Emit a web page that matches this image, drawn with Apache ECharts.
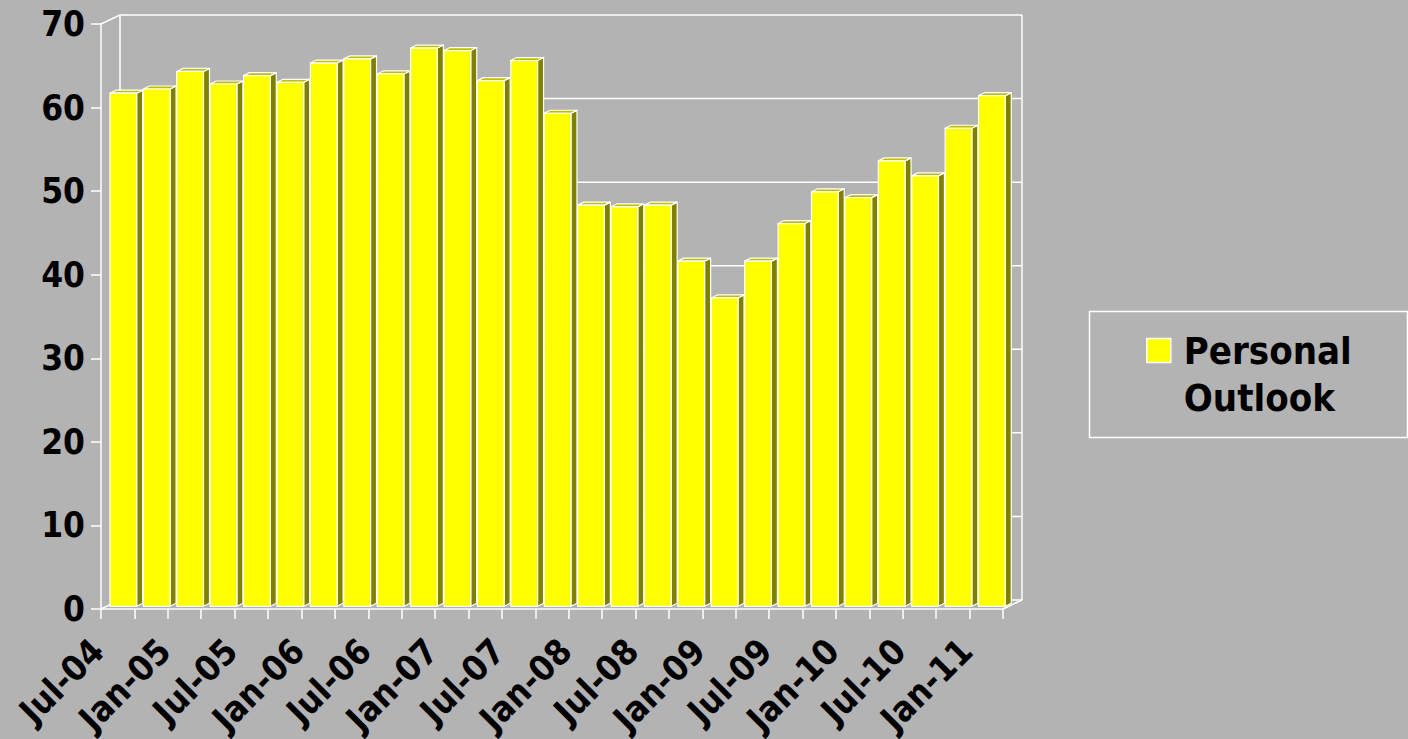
<!DOCTYPE html>
<html>
<head>
<meta charset="utf-8">
<script src="https://cdn.jsdelivr.net/npm/echarts@6/dist/echarts.min.js"></script>
<style>
  html, body { margin: 0; padding: 0; background: #b3b3b3; }
  #chart { width: 1408px; height: 739px; }
</style>
</head>
<body>
<div id="chart"></div>
<script>
// ---- data ----
const categories = ["Jul-04","Oct-04","Jan-05","Apr-05","Jul-05","Oct-05","Jan-06","Apr-06","Jul-06","Oct-06",
  "Jan-07","Apr-07","Jul-07","Oct-07","Jan-08","Apr-08","Jul-08","Oct-08","Jan-09","Apr-09",
  "Jul-09","Oct-09","Jan-10","Apr-10","Jul-10","Oct-10","Jan-11"];
const personalOutlook = [61.4, 61.9, 64.0, 62.5, 63.5, 62.7, 65.0, 65.5, 63.7, 66.8,
  66.5, 62.9, 65.3, 59.0, 48.0, 47.8, 48.0, 41.3, 36.9, 41.3,
  45.8, 49.6, 48.9, 53.3, 51.5, 57.2, 61.1];
const yTicks = [0, 10, 20, 30, 40, 50, 60, 70];
const seriesName = "Personal Outlook";
const legendLines = ["Personal", "Outlook"];

// ---- style constants ----
const FONT = "'DejaVu Sans Condensed', 'DejaVu Sans', sans-serif";
const DEPTH_X = 19, DEPTH_Y = -9;        // wall depth offset
const FRONT_X = 5.6, FRONT_Y = -2.7;     // bar front face offset
const SIDE_X = 6, SIDE_Y = -3;           // bar depth
const BAR_RATIO = 0.8;
const WHITE = '#ffffff';

const chart = echarts.init(document.getElementById('chart'), null, { renderer: 'svg' });

function renderWall(params, api) {
  const cs = params.coordSys;
  const v = api.value(1);
  const y = api.coord([0, v])[1] + DEPTH_Y;
  const children = [{
    type: 'line',
    shape: { x1: cs.x + DEPTH_X, y1: y, x2: cs.x + cs.width + DEPTH_X, y2: y },
    style: { stroke: WHITE, lineWidth: 1.5 }
  }];
  if (params.dataIndex === 0) {
    const yTop = api.coord([0, yTicks[yTicks.length - 1]])[1];
    const yBot = api.coord([0, 0])[1];
    const xl = cs.x, xr = cs.x + cs.width;
    const seg = (a, b, c, d) => ({ type: 'line', shape: { x1: a, y1: b, x2: c, y2: d }, style: { stroke: WHITE, lineWidth: 1.5 } });
    children.push(seg(xl + DEPTH_X, yTop + DEPTH_Y, xl + DEPTH_X, yBot + DEPTH_Y));
    children.push(seg(xr + DEPTH_X, yTop + DEPTH_Y, xr + DEPTH_X, yBot + DEPTH_Y));
    children.push(seg(xl, yTop, xl + DEPTH_X, yTop + DEPTH_Y));
    children.push(seg(xl, yBot, xl + DEPTH_X, yBot + DEPTH_Y));
    children.push(seg(xr, yBot, xr + DEPTH_X, yBot + DEPTH_Y));
  }
  return { type: 'group', children };
}

function renderBar(params, api) {
  const i = api.value(0), v = api.value(1);
  const top = api.coord([i, v]);
  const base = api.coord([i, 0]);
  const cw = api.size([1, 0])[0];
  const bw = cw * BAR_RATIO;
  const x0 = top[0] - bw / 2 + FRONT_X, x1 = x0 + bw;
  const y0 = top[1] + FRONT_Y, y1 = base[1] + FRONT_Y;
  const stroke = { stroke: WHITE, lineWidth: 1.2, lineJoin: 'round' };
  return {
    type: 'group',
    children: [
      { type: 'polygon', shape: { points: [[x1, y1], [x1 + SIDE_X, y1 + SIDE_Y], [x1, y1 + SIDE_Y]] },
        style: { fill: '#8c8c8c' } },
      { type: 'polygon', shape: { points: [[x1, y0], [x1 + SIDE_X, y0 + SIDE_Y], [x1 + SIDE_X, y1 + SIDE_Y], [x1, y1]] },
        style: Object.assign({ fill: '#808000' }, stroke) },
      { type: 'polygon', shape: { points: [[x0, y0], [x0 + SIDE_X, y0 + SIDE_Y], [x1 + SIDE_X, y0 + SIDE_Y], [x1, y0]] },
        style: Object.assign({ fill: '#bfbf00' }, stroke) },
      { type: 'rect', shape: { x: x0, y: y0, width: bw, height: y1 - y0 },
        style: Object.assign({ fill: '#ffff00' }, stroke) }
    ]
  };
}

const option = {
  backgroundColor: '#b3b3b3',
  animation: false,
  textStyle: { fontFamily: FONT },
  grid: [
    { left: 101, top: 24, width: 902, height: 585 },
    { left: 81, top: 24, width: 902, height: 585 }
  ],
  xAxis: [
    { type: 'category', gridIndex: 0, data: categories, boundaryGap: true,
      axisLine: { lineStyle: { color: WHITE, width: 1.5 } },
      axisTick: { show: true, interval: 0, length: 10, lineStyle: { color: WHITE, width: 1.5 } },
      axisLabel: { show: false }, splitLine: { show: false } },
    { type: 'category', gridIndex: 1, data: categories, boundaryGap: true,
      axisLine: { show: false }, axisTick: { show: false },
      axisLabel: { interval: 1, rotate: 45, margin: 48, color: '#000', fontSize: 35, fontWeight: 'bold', fontFamily: FONT },
      splitLine: { show: false } }
  ],
  yAxis: [
    { type: 'value', gridIndex: 0, min: 0, max: 70, interval: 10,
      axisLine: { show: true, lineStyle: { color: WHITE, width: 1.5 } },
      axisTick: { show: true, length: 10, lineStyle: { color: WHITE, width: 1.5 } },
      axisLabel: { margin: 16, color: '#000', fontSize: 35, fontWeight: 'bold', fontFamily: FONT },
      splitLine: { show: false } },
    { type: 'value', gridIndex: 1, min: 0, max: 70, interval: 10, show: false }
  ],
  legend: {
    data: [{ name: seriesName, icon: 'rect' }],
    left: 1146, top: 280, padding: 0,
    itemWidth: 24, itemHeight: 24,
    itemStyle: { color: '#ffff00', borderColor: WHITE, borderWidth: 1.5 },
    formatter: () => ' \n' + legendLines.join('\n'),
    textStyle: { fontFamily: FONT, fontWeight: 'bold', fontSize: 38, lineHeight: 47, color: '#000', padding: [0, 0, 0, 8] }
  },
  graphic: [
    { type: 'rect', left: 1087, top: 309, shape: { width: 318, height: 126 },
      style: { fill: 'none', stroke: WHITE, lineWidth: 1.5 }, silent: true }
  ],
  series: [
    { type: 'custom', name: 'wall', xAxisIndex: 0, yAxisIndex: 0, z: 1, silent: true,
      data: yTicks.map(v => [0, v]), renderItem: renderWall },
    { type: 'custom', name: seriesName, xAxisIndex: 0, yAxisIndex: 0, z: 3,
      itemStyle: { color: '#ffff00' },
      data: personalOutlook.map((v, i) => [i, v]), renderItem: renderBar }
  ]
};
chart.setOption(option);
</script>
</body>
</html>
